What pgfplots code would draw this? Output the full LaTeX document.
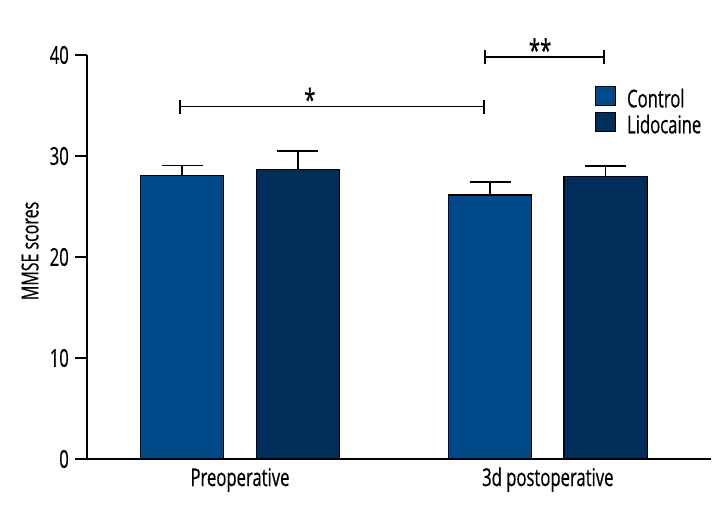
\documentclass[border=0pt]{standalone}
\usepackage{fontspec}
\setmainfont{Open Sans}[FakeStretch=0.68, FakeBold=0.6]
\usepackage{pgfplots}
\pgfplotsset{compat=1.18}
\definecolor{ctrl}{RGB}{2,73,138}
\definecolor{lido}{RGB}{0,45,89}
\newcommand{\fs}{\fontsize{24.5}{28}\selectfont}
\begin{document}
\begin{tikzpicture}
\path[use as bounding box] (0pt,0pt) rectangle (720pt,528pt);
\begin{axis}[
  at={(87pt,69pt)}, anchor=south west,
  scale only axis, width=624pt, height=404pt,
  xmin=-0.497, xmax=1.53, ymin=0, ymax=40,
  axis lines=left,
  axis line style={-, line width=1.6pt, black},
  ybar=32.4pt, bar width=83pt,
  ytick={0,10,20,30,40},
  xtick={0,1}, xticklabels={Preoperative,3d postoperative},
  tick align=outside,
  major tick length=12pt,
  tick style={line width=1.6pt, black},
  x tick style={draw=none},
  /pgf/number format/assume math mode=true,
  tick label style={font=\fs},
  yticklabel style={inner sep=0pt, xshift=-6pt},
  xticklabel style={anchor=base, yshift=-15pt, inner sep=0pt},
  ylabel={MMSE scores},
  ylabel style={font=\fontsize{23.5}{27}\selectfont, at={(axis description cs:-0.0913,0.515)}, anchor=center},
  legend style={draw=none, fill=none, font=\fs,
    at={(axis description cs:0.814,0.923)}, anchor=north west,
    inner sep=0pt, row sep=0pt, column sep=11pt,
    nodes={inner sep=0pt, text height=16pt, text depth=5pt}},
  legend cell align=left,
  clip=false,
]
\addplot[fill=ctrl, draw=black, line width=1.1pt,
  legend image code/.code={\draw[fill=ctrl, draw=black, line width=1pt] (0pt,-4pt) rectangle (20pt,15pt);},
  error bars/.cd, y dir=plus, y explicit, error mark=|,
  error bar style={line width=1.6pt, black},
  error mark options={line width=1.6pt, mark size=20.5pt, black}]
  coordinates {(0,28.05) +- (0,0.99) (1,26.14) +- (0,1.26)};
\addlegendentry{Control}
\addplot[fill=lido, draw=black, line width=1.1pt,
  legend image code/.code={\draw[fill=lido, draw=black, line width=1pt] (0pt,-4pt) rectangle (20pt,15pt);},
  error bars/.cd, y dir=plus, y explicit, error mark=|,
  error bar style={line width=1.6pt, black},
  error mark options={line width=1.6pt, mark size=20.5pt, black}]
  coordinates {(0,28.7) +- (0,1.8) (1,27.95) +- (0,1.05)};
\addlegendentry{Lidocaine}
% significance brackets
\draw[line width=1.6pt] (axis cs:-0.195,34.9) -- (axis cs:0.793,34.9);
\draw[line width=1.6pt] (axis cs:-0.195,34.9) ++(0pt,-7pt) -- ++(0pt,14pt);
\draw[line width=1.6pt] (axis cs:0.793,34.9) ++(0pt,-7pt) -- ++(0pt,14pt);
\node[anchor=base, font=\fontsize{30}{30}\selectfont, inner sep=0pt] at (axis cs:0.227,34.5) {*};
\draw[line width=1.6pt] (axis cs:0.796,39.8) -- (axis cs:1.183,39.8);
\draw[line width=1.6pt] (axis cs:0.796,39.8) ++(0pt,-7pt) -- ++(0pt,14pt);
\draw[line width=1.6pt] (axis cs:1.183,39.8) ++(0pt,-7pt) -- ++(0pt,14pt);
\node[anchor=base, font=\fontsize{30}{30}\selectfont, inner sep=0pt] at (axis cs:0.975,39.4) {**};
\end{axis}
\end{tikzpicture}
\end{document}
